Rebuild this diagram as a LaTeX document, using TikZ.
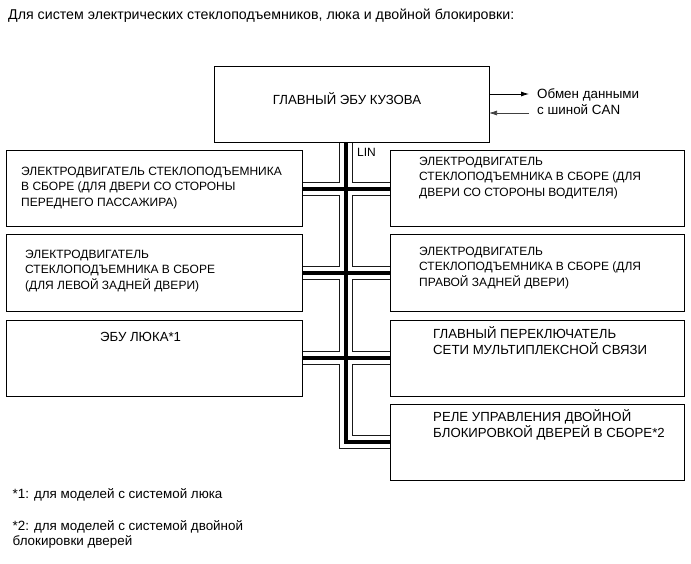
\documentclass[tikz,border=0pt]{standalone}
\usepackage{fontspec}
\setmainfont{Liberation Sans}
\usetikzlibrary{backgrounds,arrows.meta}
\begin{document}
\begin{tikzpicture}[x=1pt,y=-1pt,
  box/.style={draw=black,line width=1pt,anchor=north west,inner sep=0pt,outer sep=0pt,minimum height=76pt},
  lbox/.style={box,minimum width=296pt},
  rbox/.style={box,minimum width=294pt},
  txt/.style={anchor=west,align=left,inner sep=0pt,font=\fontsize{12}{15.7}\selectfont},
  btxt/.style={anchor=west,align=left,inner sep=0pt,font=\fontsize{13.2}{15.7}\selectfont},
  ntxt/.style={anchor=west,align=left,inner sep=0pt,font=\fontsize{13.4}{15.7}\selectfont},
  arr/.style={-{Latex[length=8pt,width=5pt]},line width=0.8pt}]
\useasboundingbox (0,0) rectangle (691,564);

% title and footnotes
\node[anchor=west,inner sep=0pt,font=\fontsize{14.2}{16}\selectfont] (title) at (8,16) {Для систем электрических стеклоподъемников, люка и двойной блокировки:};
\node[ntxt] (fn1) at (12.5,495) {*1: для моделей с системой люка};
\node[ntxt] (fn2) at (12.5,534.5) {*2: для моделей с системой двойной\\блокировки дверей};

% boxes
\node[box,minimum width=275pt] (top) at (214,67) {};
\node[btxt,anchor=center] (toptxt) at (347,99) {ГЛАВНЫЙ ЭБУ КУЗОВА};

\node[lbox] (l1) at (6,151) {};
\node[rbox] (r1) at (390,151) {};
\node[lbox] (l2) at (6,235) {};
\node[rbox] (r2) at (390,235) {};
\node[lbox] (l3) at (6,320) {};
\node[rbox] (r3) at (390,320) {};
\node[rbox] (r4) at (390,404) {};

\node[txt] (l1t) at (21,188) {ЭЛЕКТРОДВИГАТЕЛЬ СТЕКЛОПОДЪЕМНИКА\\В СБОРЕ (ДЛЯ ДВЕРИ СО СТОРОНЫ\\ПЕРЕДНЕГО ПАССАЖИРА)};
\node[txt] (r1t) at (419,178) {ЭЛЕКТРОДВИГАТЕЛЬ\\СТЕКЛОПОДЪЕМНИКА В СБОРЕ (ДЛЯ\\ДВЕРИ СО СТОРОНЫ ВОДИТЕЛЯ)};
\node[txt] (l2t) at (25,271) {ЭЛЕКТРОДВИГАТЕЛЬ\\СТЕКЛОПОДЪЕМНИКА В СБОРЕ\\(ДЛЯ ЛЕВОЙ ЗАДНЕЙ ДВЕРИ)};
\node[txt] (r2t) at (419,268) {ЭЛЕКТРОДВИГАТЕЛЬ\\СТЕКЛОПОДЪЕМНИКА В СБОРЕ (ДЛЯ\\ПРАВОЙ ЗАДНЕЙ ДВЕРИ)};
\node[btxt] (l3t) at (100,337) {ЭБУ ЛЮКА*1};
\node[btxt] (r3t) at (433,340.5) {ГЛАВНЫЙ ПЕРЕКЛЮЧАТЕЛЬ\\СЕТИ МУЛЬТИПЛЕКСНОЙ СВЯЗИ};
\node[btxt] (r4t) at (433,425) {РЕЛЕ УПРАВЛЕНИЯ ДВОЙНОЙ\\БЛОКИРОВКОЙ ДВЕРЕЙ В СБОРЕ*2};

\node[txt] (lin) at (357,152.5) {LIN};

% CAN exchange
\node[ntxt] (can) at (537,101.5) {Обмен данными\\с шиной CAN};
\coordinate (canout) at (529,94);
\coordinate (canin) at (529,113);
\draw[arr] (top.east |- canout) -- (canout);
\draw[arr,draw=black!75,line width=0.7pt] (canin) -- (top.east |- canin);

% LIN bus cable
\coordinate (busT) at ([xshift=-5.5pt]top.south);
\coordinate (busB) at (busT |- r4.west);
\begin{scope}[on background layer]
\foreach \w/\c in {14.5/black!90,12.5/white,4.5/black}
  \draw[line width=\w pt,draw=\c,line join=miter,line cap=butt]
    (busT) -- (busB) -- (r4.west)
    (l1.east) -- (r1.west)
    (l2.east) -- (r2.west)
    (l3.east) -- (r3.west);
\end{scope}
\end{tikzpicture}
\end{document}
